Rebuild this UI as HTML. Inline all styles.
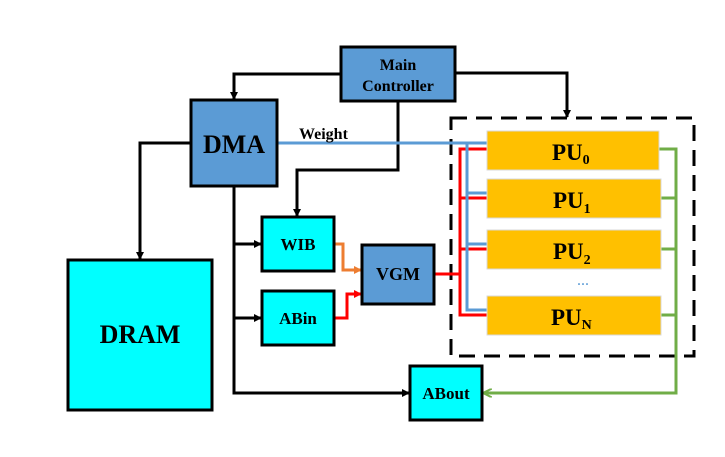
<!DOCTYPE html>
<html><head><meta charset="utf-8"><style>
body{margin:0;background:#fff;}
svg text{font-family:"Liberation Serif",serif;font-weight:bold;fill:#000;}
</style></head><body>
<svg width="725" height="452" viewBox="0 0 725 452" xmlns="http://www.w3.org/2000/svg">
<defs>
<marker id="ak" markerWidth="8" markerHeight="8" refX="7" refY="4" orient="auto" markerUnits="userSpaceOnUse"><path d="M0,0 L8,4 L0,8 z" fill="#000"/></marker>
<marker id="ao" markerWidth="8" markerHeight="8" refX="7" refY="4" orient="auto" markerUnits="userSpaceOnUse"><path d="M0,0 L8,4 L0,8 z" fill="#ED7D31"/></marker>
<marker id="ar" markerWidth="8" markerHeight="8" refX="7" refY="4" orient="auto" markerUnits="userSpaceOnUse"><path d="M0,0 L8,4 L0,8 z" fill="#f00"/></marker>
<marker id="ag" markerWidth="9" markerHeight="9" refX="8" refY="4.5" orient="auto" markerUnits="userSpaceOnUse"><path d="M0,0 L9,4.5 L0,9" fill="none" stroke="#70AD47" stroke-width="2"/></marker>
</defs>
<rect x="451" y="118" width="243" height="238" fill="none" stroke="#000" stroke-width="3" stroke-dasharray="16,9"/>
<g fill="none" stroke="#000" stroke-width="3">
<path d="M341,74 H234 V99" marker-end="url(#ak)"/>
<path d="M455,73 H567 V117" marker-end="url(#ak)"/>
<path d="M398,101 V170 H297 V216" marker-end="url(#ak)"/>
<path d="M191,143 H140 V259" marker-end="url(#ak)"/>
<path d="M234,186 V393 H409" marker-end="url(#ak)"/>
<path d="M234,244 H261" marker-end="url(#ak)"/>
<path d="M234,318 H261" marker-end="url(#ak)"/>
</g>
<g fill="none" stroke="#f00" stroke-width="3">
<path d="M334,318 H347 V294 H361" marker-end="url(#ar)"/>
<path d="M434,274 H460"/>
<path d="M487,149 H460 V315 H487"/>
<path d="M460,198 H487 M460,249 H487"/>
</g>
<path d="M334,244 H343 V270 H361" fill="none" stroke="#ED7D31" stroke-width="3" marker-end="url(#ao)"/>
<g fill="none" stroke="#5B9BD5" stroke-width="3">
<path d="M277,143 H487"/>
<path d="M467,143 V310 H487"/>
<path d="M467,193 H487 M467,244 H487"/>
</g>
<g fill="none" stroke="#70AD47" stroke-width="3">
<path d="M659,149 H676 V393 H484" marker-end="url(#ag)"/>
<path d="M659,198 H676 M659,249 H676 M659,315 H676"/>
</g>
<g stroke="#000" stroke-width="3">
<rect x="341" y="47" width="114" height="54" fill="#5B9BD5"/>
<rect x="191" y="100" width="86" height="86" fill="#5B9BD5"/>
<rect x="68" y="260" width="144" height="150" fill="#00FFFF"/>
<rect x="262" y="217" width="72" height="54" fill="#00FFFF"/>
<rect x="262" y="291" width="72" height="54" fill="#00FFFF"/>
<rect x="362" y="245" width="72" height="59" fill="#5B9BD5"/>
<rect x="410" y="366" width="72" height="54" fill="#00FFFF"/>
</g>
<g fill="#FFC000" stroke="#d9d9d9" stroke-width="1">
<rect x="487" y="131" width="172" height="39"/>
<rect x="487" y="179" width="174" height="39"/>
<rect x="487" y="230" width="174" height="39"/>
<rect x="487" y="296" width="174" height="39"/>
</g>
<text x="398" y="70" font-size="16" text-anchor="middle">Main</text>
<text x="398" y="91" font-size="16" text-anchor="middle">Controller</text>
<text x="234" y="153" font-size="26" text-anchor="middle">DMA</text>
<text x="299" y="139" font-size="16">Weight</text>
<text x="140" y="343" font-size="26" text-anchor="middle">DRAM</text>
<text x="298" y="250" font-size="17" text-anchor="middle">WIB</text>
<text x="298" y="324" font-size="17" text-anchor="middle">ABin</text>
<text x="398" y="280" font-size="18" text-anchor="middle">VGM</text>
<text x="446" y="399" font-size="17" text-anchor="middle">ABout</text>
<text x="552" y="160" font-size="23">PU<tspan font-size="14" dy="4">0</tspan></text>
<text x="553" y="208" font-size="23">PU<tspan font-size="14" dy="5">1</tspan></text>
<text x="553" y="259" font-size="23">PU<tspan font-size="14" dy="5">2</tspan></text>
<text x="551" y="325" font-size="23">PU<tspan font-size="14" dy="4">N</tspan></text>
<text x="583" y="288" font-size="12" text-anchor="middle" style="fill:#5B9BD5">···</text>
</svg>
</body></html>
